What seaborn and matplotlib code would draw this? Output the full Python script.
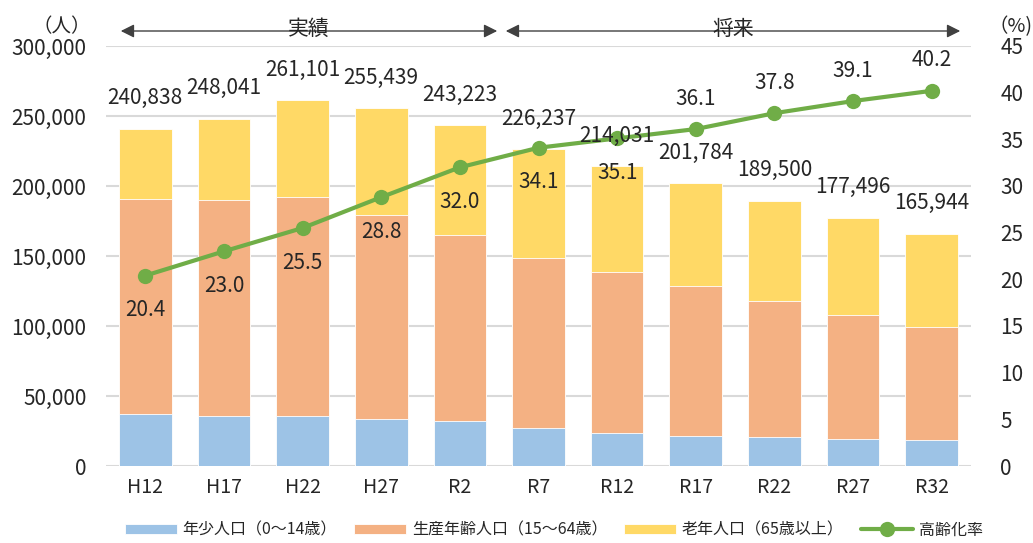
import numpy as np
import matplotlib
matplotlib.use("Agg")
import matplotlib.pyplot as plt
import seaborn as sns

# data
years = ['H12', 'H17', 'H22', 'H27', 'R2', 'R7', 'R12', 'R17', 'R22', 'R27', 'R32']
young = [37100, 35500, 35500, 33600, 31900, 27400, 23800, 21400, 20500, 19500, 18300]
working = [153800, 154700, 156600, 145900, 133300, 121400, 115000, 107400, 97400, 88600, 81000]
total = [240838, 248041, 261101, 255439, 243223, 226237, 214031, 201784, 189500, 177496, 165944]
rate = [20.4, 23.0, 25.5, 28.8, 32.0, 34.1, 35.1, 36.1, 37.8, 39.1, 40.2]

c_young = '#9DC3E6'
c_work = '#F4B183'
c_old = '#FFD966'
c_rate = '#70AD47'
grid_c = '#D9D9D9'

sns.set_theme(style='white')
plt.rcParams['font.family'] = ['Noto Sans CJK JP', 'DejaVu Sans']

fig = plt.figure(figsize=(10.33, 5.43), dpi=100)
ax = fig.add_axes([0.1026, 0.1418, 0.8374, 0.7735])

# stacked bars drawn as overlapping cumulative heights
young_work = np.array(young) + np.array(working)
sns.barplot(x=years, y=total, color=c_old, saturation=1, width=0.67, ax=ax,
            edgecolor='white', linewidth=0.6, label='老年人口（65歳以上）')
sns.barplot(x=years, y=young_work, color=c_work, saturation=1, width=0.67, ax=ax,
            edgecolor='white', linewidth=0.6, label='生産年齢人口（15～64歳）')
sns.barplot(x=years, y=young, color=c_young, saturation=1, width=0.67, ax=ax,
            edgecolor='white', linewidth=0.6, label='年少人口（0～14歳）')

ax.set_ylim(0, 300000)
ax.set_xlim(-0.5, len(years) - 0.5)
ax.set_yticks(np.arange(0, 300001, 50000))
ax.set_yticklabels([f'{v:,}' for v in range(0, 300001, 50000)])
ax.yaxis.grid(True, color=grid_c, lw=1.5)
ax.set_axisbelow(True)
for s in ax.spines.values():
    s.set_visible(False)
ax.set_xlabel('')
ax.set_ylabel('')
ax.tick_params(axis='y', length=0, pad=14, labelsize=15)
ax.tick_params(axis='x', length=0, pad=8, labelsize=14)

ax2 = ax.twinx()
sns.lineplot(x=np.arange(len(years)), y=rate, ax=ax2, color=c_rate, lw=3,
             marker='o', markersize=11, markeredgewidth=0, label='高齢化率')
ax2.set_ylim(0, 45)
ax2.set_xlim(-0.5, len(years) - 0.5)
ax2.set_yticks(np.arange(0, 46, 5))
for s in ax2.spines.values():
    s.set_visible(False)
ax2.tick_params(axis='y', length=0, pad=21, labelsize=15)
ax2.grid(False)
if ax2.get_legend():
    ax2.get_legend().remove()

# total labels above bars
for i, t in enumerate(total):
    ax2.annotate(f'{t:,}', xy=(i, t), xycoords=ax.transData, xytext=(0, 22),
                 textcoords='offset points', ha='center', va='center', fontsize=15)

# rate labels: below the point for the first ones, above for the later ones
for i, r in enumerate(rate):
    dy = -25 if i < 7 else 22
    ax2.annotate(f'{r:.1f}', xy=(i, r), xytext=(0, dy), textcoords='offset points',
                 ha='center', va='center', fontsize=15)

# unit labels
fig.text(62 / 1033, 1 - 27 / 543, '（人）', ha='center', va='center', fontsize=14)
fig.text(988 / 1033, 1 - 27 / 543, '（%)', ha='left', va='center', fontsize=14)

# period arrows
arrow_y = 1 - 31 / 543
for x0, x1, txt in [(118, 500, '実績'), (503, 963, '将来')]:
    fig.add_artist(matplotlib.patches.FancyArrowPatch(
        (x0 / 1033, arrow_y), (x1 / 1033, arrow_y), transform=fig.transFigure,
        arrowstyle='<|-|>', mutation_scale=20, color='#404040', lw=1))
    fig.text((x0 + x1) / 2 / 1033, arrow_y + 0.004, txt, ha='center', va='center',
             fontsize=15)

# legend
h1, l1 = ax.get_legend_handles_labels()
h2, l2 = ax2.get_legend_handles_labels()
if ax.get_legend():
    ax.get_legend().remove()
handles = [h1[2], h1[1], h1[0], h2[0]]
labels = [l1[2], l1[1], l1[0], l2[0]]
fig.legend(handles, labels, loc='center', bbox_to_anchor=(0.536, 0.024), ncol=4,
           frameon=False, fontsize=11.5, handlelength=3.25, handleheight=0.55,
           handletextpad=0.37, columnspacing=1.06)

fig.savefig('out.png', dpi=100)
